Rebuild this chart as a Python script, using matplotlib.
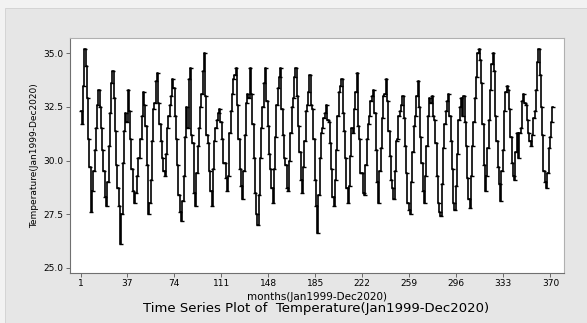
import matplotlib
matplotlib.use("Agg")
import matplotlib.pyplot as plt
from matplotlib.patches import Rectangle

# monthly temperature (12 values per row)
temperature = [
    32.3, 31.7, 33.5, 35.2, 34.4, 32.9, 31.0, 29.7, 27.6, 28.6, 29.5, 30.5,
    31.5, 32.6, 33.3, 32.5, 31.5, 30.5, 29.5, 28.3, 27.9, 29.0, 30.7, 32.2,
    33.6, 34.2, 32.9, 31.4, 29.8, 28.7, 27.9, 26.1, 27.5, 29.9, 31.4, 32.2,
    31.8, 33.3, 32.3, 31.0, 29.6, 28.6, 28.0, 28.5, 29.3, 30.1, 30.1, 31.0,
    32.1, 33.2, 32.6, 31.6, 29.8, 27.5, 28.0, 29.1, 30.9, 32.4, 32.7, 33.7,
    34.1, 32.7, 31.7, 30.9, 30.1, 29.5, 29.3, 30.3, 31.5, 32.1, 32.6, 33.0,
    33.8, 33.4, 32.1, 31.0, 29.8, 28.4, 27.6, 27.2, 28.1, 29.3, 31.1, 32.5,
    31.5, 33.8, 34.3, 31.2, 30.8, 28.5, 27.9, 29.4, 30.7, 31.5, 32.5, 33.1,
    34.2, 35.0, 33.0, 31.2, 30.8, 29.5, 28.6, 27.9, 29.6, 30.9, 31.5, 31.9,
    32.2, 32.4, 31.8, 31.0, 29.9, 29.9, 29.2, 28.6, 29.3, 31.3, 32.3, 33.1,
    33.8, 34.0, 34.3, 32.6, 31.0, 29.6, 28.8, 28.2, 29.5, 31.2, 32.7, 33.1,
    32.9, 34.3, 33.1, 31.7, 30.1, 28.5, 27.5, 27.0, 28.4, 30.1, 31.5, 32.5,
    33.6, 34.3, 32.8, 31.6, 30.3, 29.6, 28.7, 28.0, 29.6, 31.1, 32.6, 33.4,
    33.9, 34.3, 32.4, 31.2, 30.1, 29.8, 28.7, 28.6, 30.0, 31.3, 32.5, 32.9,
    33.9, 34.3, 33.0, 31.6, 30.4, 29.1, 28.5, 29.7, 30.9, 32.3, 32.6, 33.2,
    34.0, 32.6, 32.4, 31.0, 29.1, 27.9, 26.6, 28.4, 30.1, 31.3, 31.5, 32.0,
    32.2, 32.6, 31.9, 31.8, 30.8, 29.6, 28.3, 27.9, 29.1, 30.5, 32.1, 33.2,
    33.5, 33.8, 32.2, 31.4, 30.1, 28.7, 28.0, 28.8, 30.2, 31.5, 31.3, 32.4,
    33.2, 34.1, 31.6, 31.0, 29.4, 29.4, 28.5, 28.4, 29.8, 31.0, 31.7, 32.1,
    32.8, 33.0, 33.3, 32.2, 30.5, 29.0, 28.0, 29.5, 30.6, 32.0, 33.0, 33.1,
    33.8, 32.8, 31.4, 30.2, 29.1, 28.7, 28.2, 29.5, 30.9, 31.0, 32.1, 32.3,
    32.6, 33.0, 32.0, 30.7, 29.4, 28.0, 27.7, 27.5, 29.0, 30.4, 31.6, 32.1,
    33.0, 33.7, 32.5, 31.1, 29.9, 28.6, 28.0, 29.3, 30.7, 32.1, 32.9, 32.7,
    33.0, 32.1, 31.9, 30.8, 29.3, 28.0, 27.6, 27.4, 28.9, 30.6, 31.7, 32.3,
    32.8, 33.1, 32.1, 30.9, 29.6, 28.0, 27.7, 28.8, 30.3, 31.9, 32.5, 32.9,
    32.1, 33.0, 31.8, 30.7, 29.2, 28.2, 27.8, 29.3, 30.7, 31.8, 32.9, 33.9,
    35.0, 35.2, 34.7, 33.6, 31.7, 29.8, 28.6, 29.3, 30.6, 31.9, 33.3, 34.5,
    35.0, 34.2, 32.1, 30.9, 29.7, 28.9, 28.1, 29.5, 30.5, 32.3, 33.2, 33.5,
    33.3, 32.4, 31.1, 29.9, 29.3, 29.1, 30.4, 31.3, 30.1, 31.3, 31.5, 32.8,
    33.1, 32.7, 32.6, 31.9, 31.3, 30.9, 30.7, 31.2, 32.0, 32.3, 33.3, 34.6,
    35.2, 34.0, 32.5, 31.2, 29.5, 29.0, 28.7, 29.4, 30.6, 31.1, 31.8, 32.5,
]
months = list(range(1, len(temperature) + 1))

x_ticks = [1, 37, 74, 111, 148, 185, 222, 259, 296, 333, 370]
y_ticks = [25.0, 27.5, 30.0, 32.5, 35.0]


def main():
    fig = plt.figure(figsize=(5.87, 3.23), dpi=100, facecolor="#f2f2f2")
    # grey Minitab panel, inset slightly from the screenshot edge
    fig.patches.append(Rectangle((5 / 587, 0), 1, 1 - 8 / 323, transform=fig.transFigure,
                                 facecolor="#e6e6e6", edgecolor="#d0d0d0", lw=0.6,
                                 zorder=-10))

    ax = fig.add_axes([0.1193, 0.1557, 0.8407, 0.7276])
    ax.set_zorder(5)
    ax.set_facecolor("white")
    # stepped look of the low-res Minitab rendering
    ax.plot(months, temperature, color="black", lw=1.2, drawstyle="steps-mid")
    ax.plot(months, temperature, ls="none", marker="_", ms=2.5, mew=1.0, color="black")

    ax.set_xlim(-7.8, 380.3)
    ax.set_ylim(24.77, 35.73)
    ax.set_xticks(x_ticks)
    ax.set_yticks(y_ticks)
    ax.set_yticklabels([f"{v:.1f}" for v in y_ticks])
    ax.tick_params(labelsize=6.5, length=3, width=0.6, color="#555555", pad=1.5)
    for side in ["top", "right"]:
        ax.spines[side].set_color("#b0b0b0")
    for side in ["left", "bottom"]:
        ax.spines[side].set_color("#707070")
    for sp in ax.spines.values():
        sp.set_linewidth(0.8)

    ax.set_ylabel("Temperature(Jan1999-Dec2020)", fontsize=6.5, labelpad=3)
    ax.set_xlabel("months(Jan1999-Dec2020)", fontsize=7.5, labelpad=3)
    fig.text(0.538, 0.025, "Time Series Plot of  Temperature(Jan1999-Dec2020)",
             ha="center", va="bottom", fontsize=9.5, zorder=10)

    fig.savefig("out.png", dpi=100, facecolor=fig.get_facecolor())
    plt.close(fig)


if __name__ == "__main__":
    main()
